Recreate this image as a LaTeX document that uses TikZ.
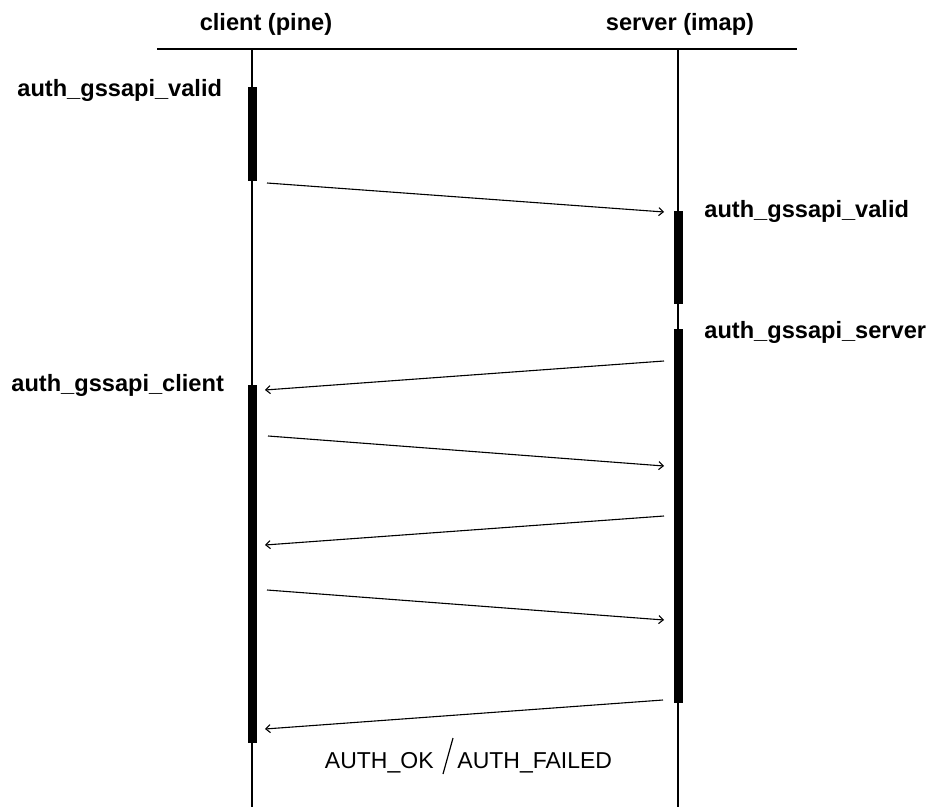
\documentclass[tikz,border=0pt]{standalone}
\usepackage{fontspec}
\setmainfont{Liberation Sans}
\usetikzlibrary{arrows.meta}
\begin{document}
\begin{tikzpicture}[x=0.5pt,y=-0.5pt,
	lbl/.style={inner sep=0pt,font=\fontsize{11.8}{14}\selectfont\bfseries},
	txt/.style={inner sep=0pt,font=\fontsize{11.5}{14}\selectfont},
	bar/.style={fill=black,inner sep=0pt,minimum width=4.5pt},
	life/.style={line width=0.8pt},
	msg/.style={line width=0.55pt,-{Straight Barb[length=2.2pt,width=4pt]}}]
	\useasboundingbox (0,0) rectangle (929,807);
	% header
	\node[lbl,anchor=base] (client) at (266,31) {client (pine)};
	\node[lbl,anchor=base] (server) at (680,31) {server (imap)};
	\coordinate (top1) at (157,49);
	\coordinate (top2) at (797,49);
	\draw[life] (top1) -- (top2);
	% lifelines
	\coordinate (ctop) at (252,49);
	\coordinate (cbot) at (252,807);
	\coordinate (stop) at (678,49);
	\coordinate (sbot) at (678,807);
	\draw[life] (ctop) -- (cbot);
	\draw[life] (stop) -- (sbot);
	% activations
	\node[bar,minimum height=47pt] (cbar1) at (252,134) {};
	\node[bar,minimum height=179pt] (cbar2) at (252,564) {};
	\node[bar,minimum height=46.5pt] (sbar1) at (678,257.5) {};
	\node[bar,minimum height=187pt] (sbar2) at (678,516) {};
	% function names
	\node[lbl,anchor=base west] (cvalid) at (17,97) {auth\_gssapi\_valid};
	\node[lbl,anchor=base west] (svalid) at (704,218) {auth\_gssapi\_valid};
	\node[lbl,anchor=base west] (sserver) at (704,338) {auth\_gssapi\_server};
	\node[lbl,anchor=base west] (cclient) at (11,391) {auth\_gssapi\_client};
	% messages
	\coordinate (m1a) at (267,183); \coordinate (m1b) at (664,212);
	\coordinate (m2a) at (664,361); \coordinate (m2b) at (265,390);
	\coordinate (m3a) at (268,436); \coordinate (m3b) at (664,466);
	\coordinate (m4a) at (664,516); \coordinate (m4b) at (265,545);
	\coordinate (m5a) at (267,590); \coordinate (m5b) at (664,620);
	\coordinate (m6a) at (663,700); \coordinate (m6b) at (265,729);
	\draw[msg] (m1a) -- (m1b);
	\draw[msg] (m2a) -- (m2b);
	\draw[msg] (m3a) -- (m3b);
	\draw[msg] (m4a) -- (m4b);
	\draw[msg] (m5a) -- (m5b);
	\draw[msg] (m6a) -- (m6b);
	% result
	\node[txt,anchor=base east] (ok) at (434,768) {AUTH\_OK};
	\node[txt,anchor=base west] (failed) at (457,768) {AUTH\_FAILED};
	\coordinate (sl1) at (443,774);
	\coordinate (sl2) at (453,738);
	\draw[line width=0.6pt] (sl1) -- (sl2);
\end{tikzpicture}
\end{document}
